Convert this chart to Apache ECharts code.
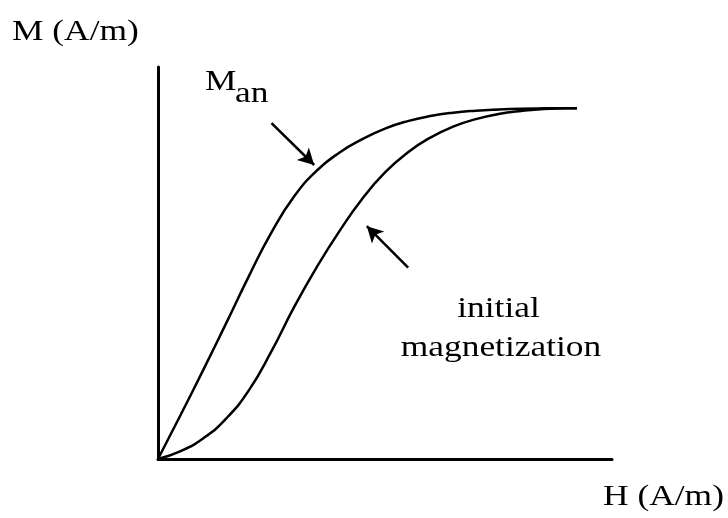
<!DOCTYPE html>
<html>
<head>
<meta charset="utf-8">
<title>Anhysteretic and initial magnetization</title>
<script src="https://cdn.jsdelivr.net/npm/echarts@6/dist/echarts.min.js"></script>
<style>
  html, body { margin: 0; padding: 0; background: #ffffff; }
  #chart { width: 728px; height: 518px; }
</style>
</head>
<body>
<div id="chart"></div>
<script>
// Field H sample points, arbitrary units 0..100
const fieldH = [0, 5, 10, 15, 20, 25, 30, 35, 40, 45, 50, 55, 60, 65, 70, 75, 80, 85, 90, 92.3];

// Anhysteretic magnetization M_an at each H
const manM = [0, 11.3, 22.8, 34.6, 46.6, 57.8, 67.0, 73.6, 78.2, 81.6, 84.3, 86.2, 87.5, 88.35, 88.85, 89.15, 89.35, 89.45, 89.5, 89.5];

// Initial magnetization curve at each H
const initM = [0, 2.0, 5.3, 10.3, 17.5, 27.5, 38.8, 49.0, 58.2, 66.4, 73.1, 78.2, 82.0, 84.8, 86.7, 88.0, 88.8, 89.3, 89.45, 89.5];

// Pointer arrows: [tailH, tailM, tipH, tipM]
const manArrow = [25.0, 85.7, 34.4, 75.0];
const initArrow = [55.1, 48.8, 46.0, 59.4];

// Axis range
const hRange = [0, 100];
const mRange = [0, 100];

const zip = (xs, ys) => xs.map((x, i) => [x, ys[i]]);
const arrowSeg = a => [{ coord: [a[0], a[1]] }, { coord: [a[2], a[3]] }];

const txt = (text, x, y, align) => ({
  type: 'text',
  x: x, y: y,
  scaleX: 1.18,
  silent: true,
  style: {
    text: text,
    fontFamily: 'Liberation Serif',
    fontSize: 30,
    fill: '#000',
    textAlign: align,
    verticalAlign: 'bottom'
  }
});

const chart = echarts.init(document.getElementById('chart'), null, { renderer: 'canvas' });

const axisCommon = {
  type: 'value',
  axisLine: { show: true, onZero: false, lineStyle: { color: '#000', width: 3 } },
  axisTick: { show: false },
  axisLabel: { show: false },
  splitLine: { show: false }
};

const curveStyle = {
  type: 'line',
  smooth: 0.5,
  showSymbol: false,
  lineStyle: { color: '#000', width: 2.5 }
};

chart.setOption({
  animation: false,
  backgroundColor: '#ffffff',
  grid: { left: 158, right: 116, top: 67, bottom: 59 },
  xAxis: Object.assign({}, axisCommon, { min: hRange[0], max: hRange[1] }),
  yAxis: Object.assign({}, axisCommon, { min: mRange[0], max: mRange[1] }),
  series: [
    Object.assign({}, curveStyle, {
      name: 'M_an',
      data: zip(fieldH, manM),
      markLine: {
        silent: true,
        symbol: ['none', 'arrow'],
        symbolSize: [13, 16],
        label: { show: false },
        lineStyle: { color: '#000', width: 2.5, type: 'solid' },
        data: [arrowSeg(manArrow), arrowSeg(initArrow)]
      }
    }),
    Object.assign({}, curveStyle, {
      name: 'initial magnetization',
      data: zip(fieldH, initM)
    })
  ],
  graphic: [
    txt('M (A/m)', 12, 47.5, 'left'),
    txt('H (A/m)', 603, 512.5, 'left'),
    txt('M', 205, 97.5, 'left'),
    txt('an', 235, 109.5, 'left'),
    txt('initial', 498.5, 324.5, 'center'),
    txt('magnetization', 501, 363.5, 'center')
  ]
});
</script>
</body>
</html>
